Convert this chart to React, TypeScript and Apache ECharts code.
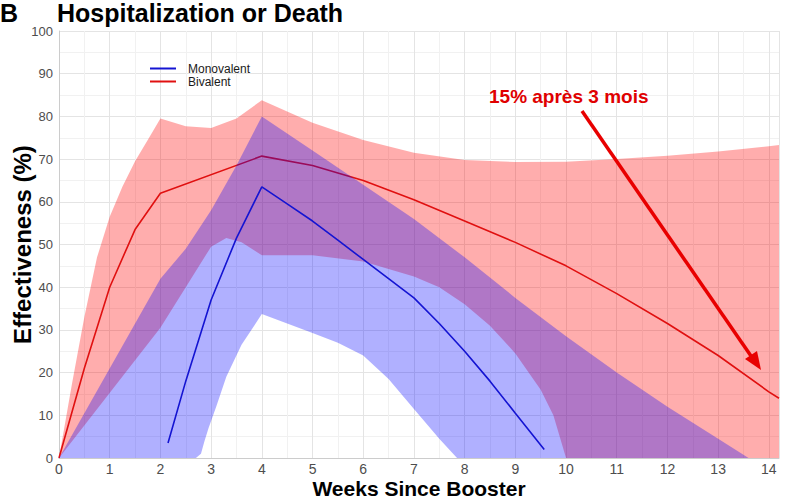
import React, { useEffect, useRef } from 'react';
import * as echarts from 'echarts';

// ---- data ----
const seriesNames = ['Monovalent', 'Bivalent'];
const titleText = 'Hospitalization or Death';
const panelLetter = 'B';
const xAxisTitle = 'Weeks Since Booster';
const yAxisTitle = 'Effectiveness (%)';
const annotationText = '15% après 3 mois';

// point estimates [week, effectiveness %]
const monovalentLine: [number, number][] = [
  [2.15, 3.5], [2.5, 18], [3, 37], [3.5, 51.5], [4, 63.5], [4.5, 59.5], [5, 55.5], [5.5, 51],
  [6, 46.5], [6.5, 42], [7, 37.5], [7.5, 31.5], [8, 25], [8.5, 18], [9, 10.5], [9.57, 2],
];
const bivalentLine: [number, number][] = [
  [0, 0], [0.5, 21], [1, 40], [1.5, 53.5], [2, 62], [4, 70.7], [5, 68.5], [6, 65], [7, 60.5],
  [8, 55.5], [9, 50.5], [10, 45], [11, 38.5], [12, 31.5], [13, 24], [14, 15.5], [14.2, 14],
];

// confidence ribbons
const monovalentUpper: [number, number][] = [
  [0, 0], [2, 42], [2.5, 49], [3, 58], [3.5, 68.5], [4, 80], [5, 72], [6, 64], [7, 56],
  [8, 47], [9, 37.5], [10, 28.5], [11, 20], [12, 12], [13, 4.5], [13.6, 0],
];
const monovalentLower: [number, number][] = [
  [0, 0], [2.7, 0], [2.8, 1], [2.87, 4], [2.95, 7], [3.1, 12], [3.3, 19], [3.6, 26.5], [4, 33.7],
  [4.5, 31.5], [5, 29.3], [5.5, 27], [6, 24], [6.5, 18.5], [7, 11.5], [7.5, 4.5], [7.85, 0], [13.6, 0],
];
const bivalentUpper: [number, number][] = [
  [0, 0], [0.25, 17], [0.5, 33], [0.75, 47], [1, 56.5], [1.25, 63.5], [1.5, 69.5], [1.75, 74.5],
  [2, 79.5], [2.5, 77.7], [3, 77.3], [3.5, 79.5], [4, 83.8], [5, 78.5], [6, 74.5], [7, 71.5],
  [8, 69.8], [9, 69.3], [10, 69.4], [11, 70], [12, 70.8], [13, 71.8], [14, 73], [14.2, 73.3],
];
const bivalentLower: [number, number][] = [
  [0, 0], [2, 30.5], [2.5, 40], [3, 49.5], [3.3, 51.5], [3.6, 50.5], [4, 47.5], [5, 47.5],
  [6, 46], [7, 42.5], [7.5, 40], [8, 36], [8.5, 31], [9, 24.5], [9.5, 16], [9.75, 10], [10, 0], [14.2, 0],
];

const FONT = '"Liberation Sans", Arial, Helvetica, sans-serif';
const BLUE = '#1414d2';
const RED = '#e01010';

function band(name: string, upper: [number, number][], lower: [number, number][], fill: string, z: number) {
  return {
    type: 'custom',
    name,
    coordinateSystem: 'cartesian2d',
    data: [upper[0]],
    clip: true,
    silent: true,
    z,
    renderItem: (_params: any, api: any) => {
      const pts = upper.map((p) => api.coord(p)).concat(lower.slice().reverse().map((p) => api.coord(p)));
      return { type: 'polygon', shape: { points: pts }, style: { fill } };
    },
  };
}

export default function App() {
  const ref = useRef<HTMLDivElement>(null);
  useEffect(() => {
    if (!ref.current) return;
    const chart = echarts.init(ref.current, null, { renderer: 'svg' });
    const axisCommon = {
      axisLine: { show: true, lineStyle: { color: '#cccccc', width: 1 } },
      axisTick: { show: false },
      splitLine: { show: true, lineStyle: { color: '#e4e4e4', width: 1 } },
      minorTick: { show: false, splitNumber: 2 },
      minorSplitLine: { show: true, lineStyle: { color: '#f1f1f1', width: 1 } },
    };
    const titleStyle = { fontSize: 25, lineHeight: 25, fontWeight: 'bold', color: '#000', fontFamily: FONT };
    chart.setOption({
      animation: false,
      backgroundColor: '#ffffff',
      textStyle: { fontFamily: FONT },
      title: [
        { text: panelLetter, left: 0, top: 0, padding: 0, textStyle: titleStyle },
        { text: titleText, left: 57, top: 0, padding: 0, textStyle: titleStyle },
      ],
      legend: {
        orient: 'vertical',
        left: 150,
        top: 62,
        padding: 0,
        itemWidth: 26,
        itemHeight: 2,
        itemGap: 0,
        icon: 'rect',
        data: seriesNames.map((n) => ({ name: n, icon: 'rect' })),
        textStyle: { fontSize: 12, color: '#1a1a1a', lineHeight: 13, padding: [0, 0, 0, 7], fontFamily: FONT },
      },
      grid: { left: 59, right: 8, top: 31, bottom: 40, containLabel: false, outerBoundsMode: 'none' },
      xAxis: {
        type: 'value',
        min: 0,
        max: 14.2,
        interval: 1,
        ...axisCommon,
        axisLabel: {
          color: '#4d4d4d', fontSize: 14, margin: 4, showMaxLabel: false, fontFamily: FONT,
          formatter: (v: number) => (Number.isInteger(v) ? String(v) : ''),
        },
        name: xAxisTitle,
        nameLocation: 'middle',
        nameGap: 20,
        nameMoveOverlap: false,
        nameTextStyle: { fontSize: 21, lineHeight: 20, fontWeight: 'bold', color: '#000', fontFamily: FONT },
      },
      yAxis: {
        type: 'value',
        min: 0,
        max: 100,
        interval: 10,
        ...axisCommon,
        axisLabel: { color: '#4d4d4d', fontSize: 13, margin: 6, fontFamily: FONT },
        name: yAxisTitle,
        nameLocation: 'middle',
        nameGap: 25,
        nameMoveOverlap: false,
        nameTextStyle: { fontSize: 24, fontWeight: 'bold', color: '#000', fontFamily: FONT },
      },
      series: [
        band('Bivalent CI', bivalentUpper, bivalentLower, 'rgba(255,0,0,0.32)', 1),
        {
          type: 'line', name: seriesNames[1], data: bivalentLine, showSymbol: false, symbol: 'none',
          lineStyle: { color: RED, width: 1.6 }, itemStyle: { color: RED }, z: 2, silent: true,
        },
        band('Monovalent CI', monovalentUpper, monovalentLower, 'rgba(0,0,255,0.31)', 3),
        {
          type: 'line', name: seriesNames[0], data: monovalentLine, showSymbol: false, symbol: 'none',
          lineStyle: { color: BLUE, width: 1.6 }, itemStyle: { color: BLUE }, z: 4, silent: true,
        },
      ],
      graphic: [
        {
          type: 'text', x: 489, y: 96, z: 100,
          style: { text: annotationText, fill: '#e00000', font: `bold 19px ${FONT}`, textVerticalAlign: 'middle', textAlign: 'left' },
        },
        {
          type: 'line', z: 100,
          shape: { x1: 582, y1: 111, x2: 751, y2: 356 },
          style: { stroke: '#e80000', lineWidth: 3.5 },
        },
        {
          type: 'polygon', z: 100,
          shape: { points: [[761, 370], [745, 359], [757, 351]] },
          style: { fill: '#e80000' },
        },
      ],
    });
    return () => chart.dispose();
  }, []);
  return <div ref={ref} style={{ position: 'fixed', left: 0, top: 0, width: 787, height: 498 }} />;
}
